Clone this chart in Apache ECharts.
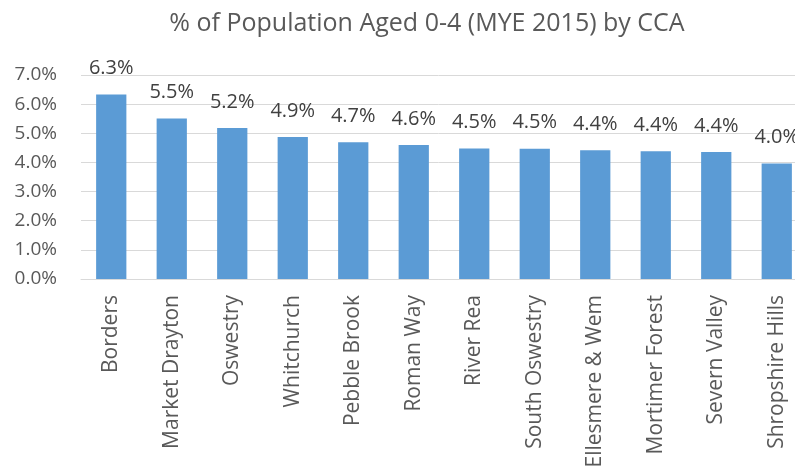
<!DOCTYPE html>
<html><head><meta charset="utf-8">
<script src="https://cdn.jsdelivr.net/npm/echarts@6/dist/echarts.min.js"></script>
<style>html,body{margin:0;padding:0;background:#fff}#c{width:795px;height:467px}</style>
</head><body><div id="c"></div>
<script>
const categories = ["Borders","Market Drayton","Oswestry","Whitchurch","Pebble Brook","Roman Way","River Rea","South Oswestry","Ellesmere & Wem","Mortimer Forest","Severn Valley","Shropshire Hills"];
const values = [6.33, 5.51, 5.18, 4.87, 4.69, 4.60, 4.48, 4.47, 4.42, 4.38, 4.36, 3.96];
const yTicks = {min: 0, max: 7, interval: 1};
const titleText = "% of Population Aged 0-4 (MYE 2015) by CCA";
const FONT = "Open Sans";
const chart = echarts.init(document.getElementById('c'), null, {renderer: 'canvas'});
chart.setOption({
  animation: false,
  backgroundColor: '#fff',
  title: {text: titleText, left: 422, top: 6, textAlign: 'center',
    textStyle: {fontFamily: FONT, fontSize: 25, fontWeight: 'normal', color: '#595959'}},
  grid: {left: 81, right: -12, top: 75, bottom: 188, containLabel: false, outerBoundsMode: 'none'},
  xAxis: {type: 'category', data: categories,
    axisLine: {show: true, lineStyle: {color: '#d9d9d9', width: 1}},
    axisTick: {show: false},
    axisLabel: {rotate: 90, interval: 0, margin: 16, fontFamily: FONT, fontSize: 21, color: '#595959'}},
  yAxis: {type: 'value', min: yTicks.min, max: yTicks.max, interval: yTicks.interval,
    axisLine: {show: false}, axisTick: {show: false},
    splitLine: {lineStyle: {color: '#d9d9d9', width: 1}},
    axisLabel: {margin: 24, fontFamily: FONT, fontSize: 19, color: '#595959',
      formatter: v => v.toFixed(1) + '%'}},
  series: [{type: 'bar', data: values, barWidth: '50%',
    itemStyle: {color: '#5b9bd5'},
    label: {show: true, position: 'top', distance: 16, fontFamily: FONT, fontSize: 20, color: '#404040',
      formatter: p => p.value.toFixed(1) + '%'}}]
});
</script></body></html>
